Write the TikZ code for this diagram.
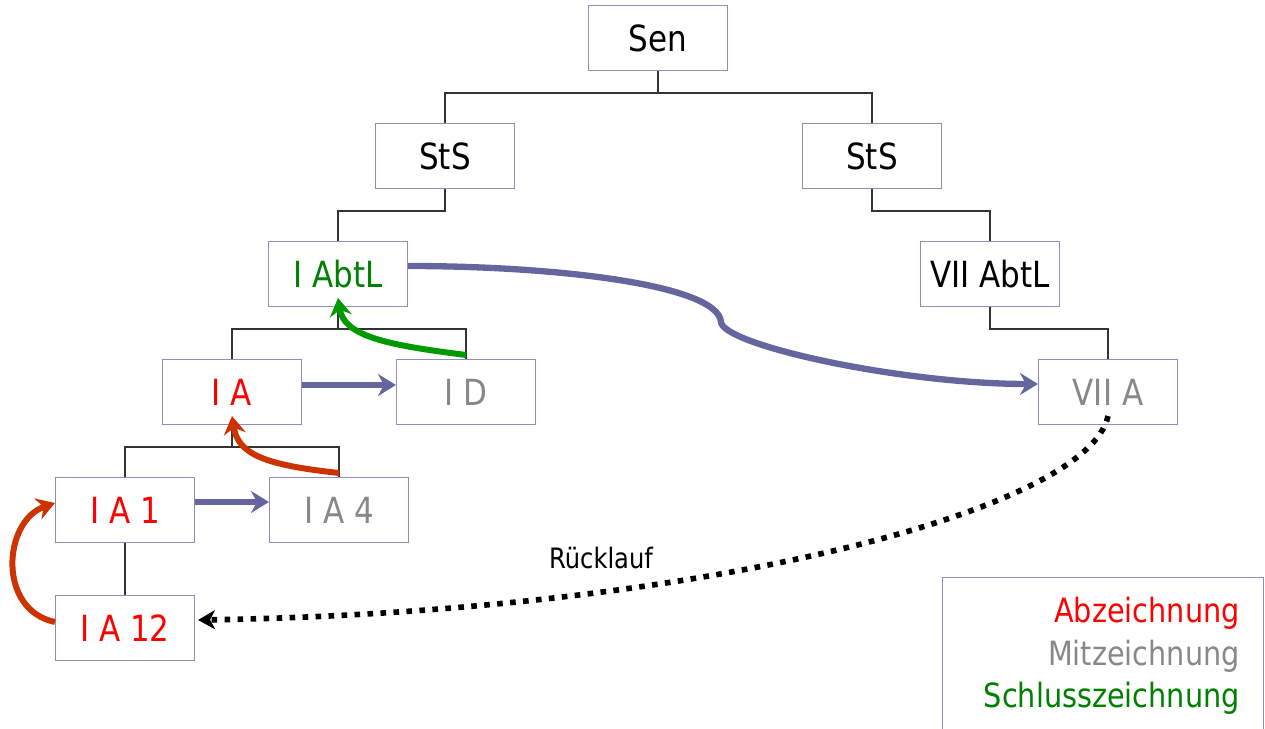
\documentclass[tikz,border=0pt]{standalone}
\usepackage{fontspec}
\setmainfont[FakeStretch=0.86]{DejaVu Sans}
\usepackage{xcolor}
\usetikzlibrary{arrows.meta,calc}
\definecolor{unitRim}{RGB}{140,140,190}
\definecolor{flowPurple}{RGB}{102,102,158}
\definecolor{signRed}{RGB}{255,0,0}
\definecolor{signGray}{RGB}{136,136,136}
\definecolor{signGreen}{RGB}{0,128,0}
\definecolor{markGreen}{RGB}{0,153,0}
\definecolor{markOrange}{RGB}{204,51,0}
\tikzset{
  % one box per organisational unit
  unit/.style={
    draw=unitRim,
    line width=0.6pt,
    fill=white,
    minimum width=2.78cm,
    minimum height=1.3cm,
    inner sep=0pt,
    font=\fontsize{20.5}{24}\selectfont
  },
  tree/.style={
    draw=black!80,
    line width=0.7pt
  },
  % forwarding for co-signature
  flow/.style={
    -{Stealth[length=3.6mm,width=4.4mm,inset=1.2mm]},
    draw=flowPurple,
    line width=3.6pt
  },
  % signature handed upwards
  sign/.style={
    -{Stealth[length=3.6mm,width=4.4mm,inset=1.2mm]},
    draw=#1,
    line width=3.4pt
  },
  sign/.default=markOrange,
  backflow/.style={
    -{Stealth[length=3.4mm,width=3.8mm,inset=1mm]},
    draw=black,
    line width=3.2pt,
    dash pattern=on 3.2pt off 4.2pt
  },
  note/.style={
    font=\fontsize{16}{19}\selectfont
  },
  keybox/.style={
    draw=unitRim,
    line width=0.6pt,
    minimum width=6.42cm,
    minimum height=4cm,
    inner sep=0pt
  }
}

\begin{document}
\begin{tikzpicture}[x=0.2mm,y=-0.2mm]
\useasboundingbox (0,0) rectangle (1265,729);

% hierarchy
\node[unit] (sen) at (658,38) {Sen};
\node[unit] (stsL) at (445,156) {StS};
\node[unit] (stsR) at (872,156) {StS};
\node[unit, text=signGreen] (abtI) at (338,274) {I AbtL};
\node[unit] (abtVII) at (990,274) {VII AbtL};
\node[unit, text=signRed] (refIA) at (232,392) {I A};
\node[unit, text=signGray] (refID) at (466,392) {I D};
\node[unit, text=signGray] (refVIIA) at (1108,392) {VII A};
\node[unit, text=signRed] (refIA1) at (125,510) {I A 1};
\node[unit, text=signGray] (refIA4) at (339,510) {I A 4};
\node[unit, text=signRed] (refIA12) at (125,628) {I A 12};

\draw[tree] (sen.south) -- ++(0,22) -| (stsL.north);
\draw[tree] (sen.south) -- ++(0,22) -| (stsR.north);
\draw[tree] (stsL.south) -- ++(0,22) -| (abtI.north);
\draw[tree] (stsR.south) -- ++(0,22) -| (abtVII.north);
\draw[tree] (abtI.south) -- ++(0,22) -| (refIA.north);
\draw[tree] (abtI.south) -- ++(0,22) -| (refID.north);
\draw[tree] (abtVII.south) -- ++(0,22) -| (refVIIA.north);
\draw[tree] (refIA.south) -- ++(0,22) -| (refIA1.north);
\draw[tree] (refIA.south) -- ++(0,22) -| (refIA4.north);
\draw[tree] (refIA1) -- (refIA12);

% co-signature
\draw[flow] ($(refIA.east)+(0,-7)$) -- ($(refID.west)+(0,-7)$);
\draw[flow] ($(refIA1.east)+(0,-8)$) -- ($(refIA4.west)+(0,-8)$);
\coordinate (kink) at (721,322);
\draw[flow] ($(abtI.east)+(0,-8)$) .. controls +(150,0) and +(-3,-37) .. (kink)
  .. controls +(2,23) and +(-138,0) .. ($(refVIIA.west)+(0,-8)$);

% signatures upwards
\draw[sign] ($(refIA12.west)+(0,-6)$) .. controls +(-58,-12) and +(-52,18) .. ($(refIA1.west)+(0,-7)$);
\draw[sign] ($(refIA4.north)+(0,-4)$) .. controls +(-75,-8) and +(6,38) .. ($(refIA.south)+(0,-9)$);
\draw[sign=markGreen] ($(refID.north)+(0,-4)$) .. controls +(-80,-10) and +(6,38) .. ($(abtI.south)+(0,-9)$);

% return path
\draw[backflow] ($(refVIIA.south)+(0,-9)$) .. controls +(-20,95) and +(500,-8) .. ($(refIA12.east)+(3,-8)$);
\node[note] (return) at (601,558) {Rücklauf};

% key
\node[keybox, anchor=north west] (key) at (942,577) {};
\node[anchor=north east, align=right, inner sep=0pt,
  font=\fontsize{19}{24.2}\selectfont] (keytext) at ($(key.north east)+(-24,20)$)
{\textcolor{signRed}{Abzeichnung}\\
\textcolor{signGray}{Mitzeichnung}\\
\textcolor{signGreen}{Schlusszeichnung}};

\end{tikzpicture}
\end{document}
